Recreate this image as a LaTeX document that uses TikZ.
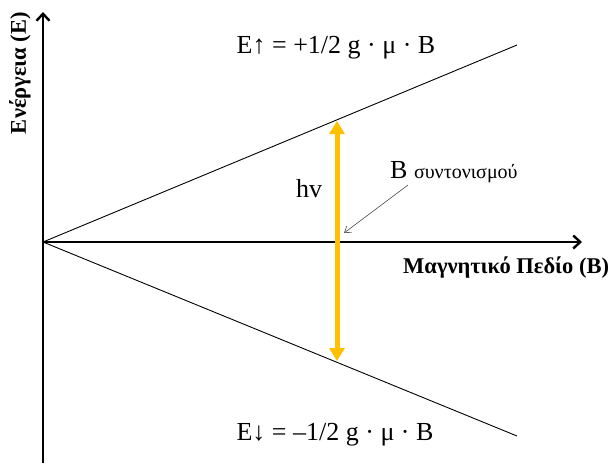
\documentclass[tikz,border=0pt]{standalone}
\usepackage{fontspec}
\setmainfont{Liberation Serif}
\usetikzlibrary{arrows.meta}
\definecolor{gold}{HTML}{FFC000}
\begin{document}
\begin{tikzpicture}[x=1pt,y=-1pt,
  axis/.style={line width=2.4pt,-{Straight Barb[length=7pt,width=13pt,line width=2.4pt]}},
  level/.style={line width=0.9pt},
  lbl/.style={inner sep=0pt,font=\fontsize{26}{30}\selectfont},
  bold/.style={inner sep=0pt,font=\fontsize{22.5}{26}\selectfont\bfseries},
  photon/.style={line width=5pt,draw=gold,{Triangle[length=13pt,width=15pt]}-{Triangle[length=13pt,width=15pt]}},
  pointer/.style={line width=0.6pt,draw=black!70,-{Straight Barb[length=6pt,width=8pt]}}]
\useasboundingbox (0,0) rectangle (615,463);
\coordinate (O) at (43,242);
\coordinate (ybot) at (43,463);
\coordinate (ytop) at (43,12);
\coordinate (xend) at (582,242);
\coordinate (up) at (517,45);
\coordinate (down) at (517,436);
\coordinate (atop) at (337,121);
\coordinate (abot) at (337,361);
\coordinate (pstart) at (408,185);
\coordinate (pend) at (344,233);
\draw[axis] (ybot) -- (ytop);
\draw[axis] (O) -- (xend);
\draw[level] (O) -- (up);
\draw[level] (O) -- (down);
\draw[photon] (abot) -- (atop);
\draw[pointer] (pstart) -- (pend);
\node[lbl] (eup) at (336,48) {E↑ = +1/2 g · μ · B};
\node[lbl] (edown) at (335,435) {E↓ = –1/2 g · μ · B};
\node[lbl] (hv) at (309,189) {hv};
\node[lbl,anchor=west] (bres) at (390,172) {B {\fontsize{20}{24}\selectfont συντονισμού}};
\node[bold,anchor=west] (xlab) at (403,268) {Μαγνητικό Πεδίο (Β)};
\node[bold,rotate=90] (ylab) at (20,73) {Ενέργεια (Ε)};
\end{tikzpicture}
\end{document}
